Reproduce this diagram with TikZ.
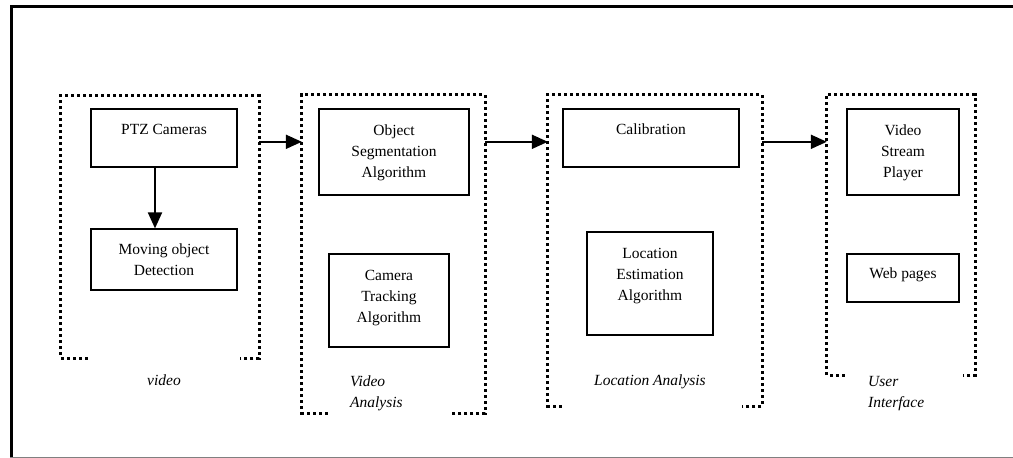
\documentclass[tikz,border=0pt]{standalone}
\usepackage{fontspec}
\setmainfont{Liberation Serif}
\usetikzlibrary{arrows.meta}
\tikzset{
  box/.style={draw, line width=1.2pt, inner sep=0pt, align=center, font=\fontsize{15.5}{21}\selectfont},
  grp/.style={inner sep=0pt, minimum width=#1},
  brk/.style={line width=3pt, dash pattern=on 3pt off 3pt},
  arr/.style={line width=2pt, -{Triangle[length=16pt,width=14pt]}},
  lbl/.style={inner sep=0pt, align=left, font=\fontsize{15.5}{21}\selectfont\itshape},
}
\newcommand{\bracket}[3]{\draw [brk] ([xshift=#2]#1.south west) -- (#1.south west) -- (#1.north west) -- (#1.north east) -- (#1.south east) -- ([xshift=-#3]#1.south east);}
\begin{document}
\begin{tikzpicture}[x=1pt, y=-1pt]
\useasboundingbox (0,0) rectangle (1013,458);
\draw [line width=3pt] (10,6.5) -- (1013,6.5);
\draw [line width=3pt] (11.5,5) -- (11.5,458);
\draw [line width=1pt, gray] (10,457) -- (1013,457);
% groups
\node [grp=198pt, minimum height=262pt] (vid) at (160,227) {};
\node [grp=183pt, minimum height=318pt] (ana) at (393.5,254) {};
\node [grp=214pt, minimum height=311pt] (loc) at (655,250.5) {};
\node [grp=148pt, minimum height=280pt] (ui) at (901,235) {};
\bracket{vid}{27pt}{19pt}
\bracket{ana}{26pt}{35pt}
\bracket{loc}{14pt}{20pt}
\bracket{ui}{18pt}{12pt}
% video
\node [box, minimum width=146pt, text height=25pt, text depth=33pt] (ptz) at (164,138) {PTZ Cameras};
\node [box, minimum width=146pt, text height=46pt, text depth=15pt] (mov) at (164,259.5) {Moving object\\Detection};
\draw [arr] ([xshift=-9pt]ptz.south) to ([xshift=-9pt]mov.north);
\node [lbl, align=center] (vidT) at (164,380) {video};
% video analysis
\node [box, minimum width=150pt, text height=68pt, text depth=18pt] (seg) at (394,152) {Object\\Segmentation\\Algorithm};
\node [box, minimum width=120pt, text height=68pt, text depth=25pt] (trk) at (389,300.5) {Camera\\Tracking\\Algorithm};
\node [lbl, anchor=north west] (anaT) at (350,376) {Video\\Analysis};
% location analysis
\node [box, minimum width=176pt, text height=25pt, text depth=33pt] (cal) at (651,138) {Calibration};
\node [box, minimum width=126pt, text height=68pt, text depth=35pt] (est) at (650,283.5) {Location\\Estimation\\Algorithm};
\node [lbl] (locT) at (650,382) {Location Analysis};
% user interface
\node [box, minimum width=112pt, text height=68pt, text depth=18pt] (vsp) at (903,152) {Video\\Stream\\Player};
\node [box, minimum width=112pt, text height=24pt, text depth=24pt] (web) at (903,278) {Web pages};
\node [lbl, anchor=north west] (uiT) at (868,376) {User\\Interface};
% links
\draw [arr] ([yshift=-46pt]vid.north east) to ([yshift=-47pt]ana.north west);
\draw [arr] ([yshift=-47pt]ana.north east) to ([yshift=-47pt]loc.north west);
\draw [arr] ([yshift=-47pt]loc.north east) to ([yshift=-47pt]ui.north west);
\end{tikzpicture}
\end{document}
